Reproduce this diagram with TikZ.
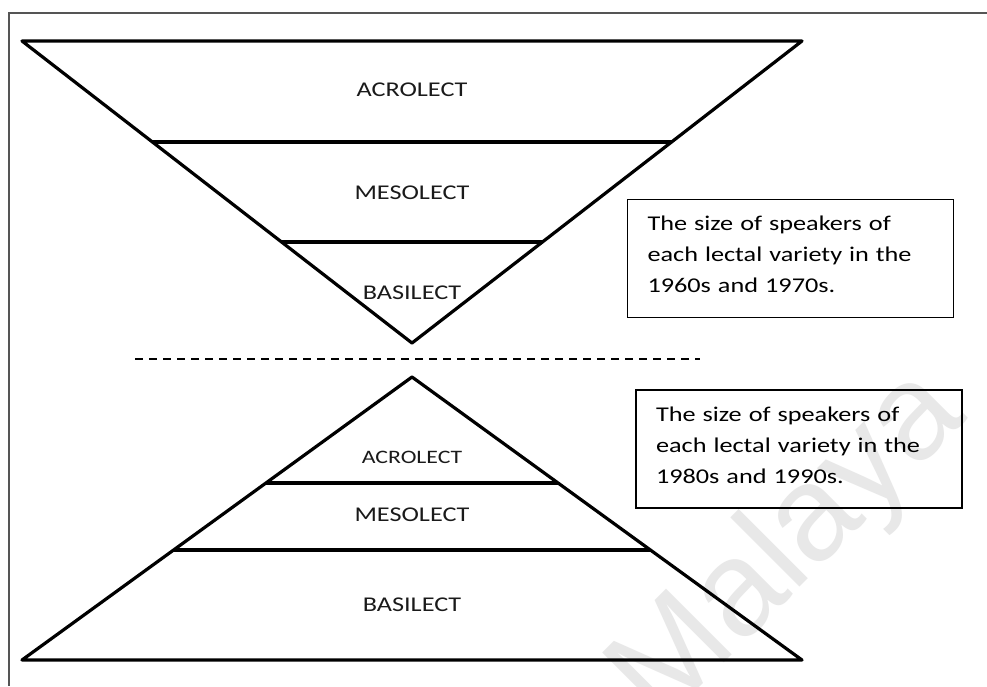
\documentclass[tikz,border=0pt]{standalone}
\usepackage{fontspec}
\setmainfont{Carlito}
\newfontfamily\lectfont[FakeStretch=1.25]{Carlito}
\newfontfamily\markfont{Liberation Sans}
\usetikzlibrary{positioning}
\definecolor{frameline}{HTML}{555555}
\definecolor{lectink}{HTML}{1A1A1A}
\definecolor{watermark}{HTML}{E8E8E8}
\newcommand{\notetail}{\endgraf\kern8pt}

\begin{document}
\begin{tikzpicture}[x=1pt, y=-1pt,
        layerline/.style={line width=3.2pt, line join=round, black},
        lectlabel/.style={inner sep=0pt, text=lectink,
        font=\lectfont\fontsize{21}{21}\selectfont},
        notebox/.style={rectangle, draw=black, line width=1.6pt,
        align=left, text width=286pt, inner xsep=20pt, minimum height=118pt,
        font=\lectfont\fontsize{21}{31}\selectfont,
        execute at end node=\notetail},
        sepline/.style={line width=1.6pt, dash pattern=on 8pt off 6pt},
      ]
      \useasboundingbox (0,0) rectangle (987,686);
      \fill[white] (0,0) rectangle (987,686);

      % watermark (behind everything, clipped to the page)
      \begin{scope}
        \clip (0,0) rectangle (987,686);
        \node[rotate=45, text=watermark,
        font=\markfont\fontsize{135}{135}\selectfont] (wm) at (790,548)
        {Malaya};
      \end{scope}

      % page frame, open to the right and bottom
      \draw[frameline, line width=1.5pt] (987,13) -- (9,13) -- (9,686);

      % 1960s/1970s - inverted pyramid, acrolect on top
      \coordinate (ut-l) at (22,41);
      \coordinate (ut-r) at (802,41);
      \coordinate (ut-apex) at (412,343);
      \draw[layerline] (ut-l) -- (ut-r) -- (ut-apex) -- cycle;
      \draw[layerline] (152.4,142) -- (671.6,142);
      \draw[layerline] (281.6,242) -- (542.4,242);
      \node[lectlabel] (acro1) at (412,90) {ACROLECT};
      \node[lectlabel] (meso1) at (412,193) {MESOLECT};
      \node[lectlabel] (basi1) at (412,293) {BASILECT};

      \node[notebox] (note1) at (790.5,258.5) {The size of speakers of\\
      each lectal variety in the\\1960s and 1970s.};

      % separator
      \coordinate (sep-l) at (135,359);
      \coordinate (sep-r) at (700,359);
      \draw[sepline] (sep-l) -- (sep-r);

      % 1980s/1990s - upright pyramid, basilect at the bottom
      \coordinate (lt-apex) at (412,377);
      \coordinate (lt-l) at (22,660);
      \coordinate (lt-r) at (802,660);
      \draw[layerline] (lt-apex) -- (lt-r) -- (lt-l) -- cycle;
      \draw[layerline] (265.9,483) -- (558.1,483);
      \draw[layerline] (173.6,550) -- (650.4,550);
      \node[lectlabel, font=\lectfont\fontsize{19}{19}\selectfont] (acro2)
      at (412,457) {ACROLECT};
      \node[lectlabel] (meso2) at (412,515) {MESOLECT};
      \node[lectlabel] (basi2) at (412,605) {BASILECT};

      \node[notebox] (note2) at (799,449) {The size of speakers of\\
      each lectal variety in the\\1980s and 1990s.};
    \end{tikzpicture}
\end{document}
